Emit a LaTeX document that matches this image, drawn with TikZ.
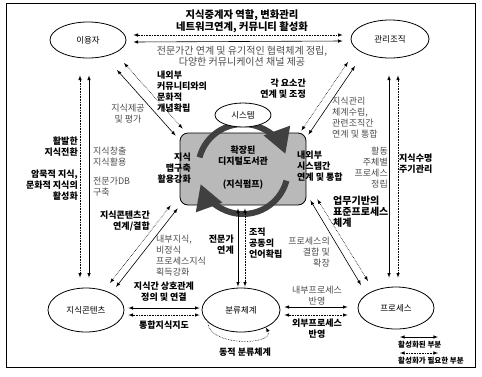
\documentclass[tikz,border=0pt]{standalone}
\usepackage{fontspec}
\setmainfont{Noto Sans CJK KR}
\usepackage{tikz}
\usetikzlibrary{arrows, shapes.geometric}

\begin{document}
\begin{tikzpicture}[x=1pt, y=-1pt,
	every node/.style={
		inner sep=0pt,
		font=\fontsize{9}{11}\selectfont,
		},
	every ellipse node/.style={
		draw,
		thick,
		font=\fontsize{8.5}{10}\selectfont,
		},
	bold/.style={font=\fontsize{9}{11}\selectfont\bfseries},
	thin/.style={text=black!70},
	>=latex,
	act/.style={<->, semithick},
	need/.style={<->, semithick, densely dotted}]

	\useasboundingbox (0,0) rectangle (482,376);
	\draw[semithick] (6,3) rectangle (475,367);

	\node[ellipse, minimum width=76pt, minimum height=36pt] (u) at (88,40) {이용자};
	\node[ellipse, minimum width=78pt, minimum height=38pt] (m) at (390,39) {관리조직};
	\node[ellipse, minimum width=76pt, minimum height=44pt] (kc) at (86,310) {지식콘텐츠};
	\node[ellipse, minimum width=78pt, minimum height=44pt] (cl) at (241,310) {분류체계};
	\node[ellipse, minimum width=76pt, minimum height=42pt] (pr) at (396,308) {프로세스};

	\node[draw, thick, rounded corners=8pt, fill=gray!55, minimum width=126pt, minimum height=72pt] (box) at (243,169) {};

	% pump
	\draw[line width=6pt, black!75, -triangle 60] (box.center) ++(-165:45) arc[start angle=-165, end angle=-20, radius=45];
	\draw[line width=6pt, black!75, -triangle 60] (box.center) ++(15:45) arc[start angle=15, end angle=160, radius=45];

	\node[ellipse, fill=white, minimum width=56pt, minimum height=24pt] (sys) at (243,115) {시스템};

	\node[bold, align=center] (lib) at (243,156) {확장된\\디지털도서관};
	\node[bold] (pump) at (243,185) {(지식펌프)};

	% connections
	\draw[act] ([shift={(7,2)}]u.east) -- ([shift={(-8,2)}]m.west);
	\draw[need] ([shift={(7,-5)}]u.east) -- ([shift={(-8,-4)}]m.west);

	\draw[act] ([shift={(1,17)}]u.south) -- ([shift={(3,-10)}]kc.north);
	\draw[need] ([shift={(-8,17)}]u.south) -- ([shift={(-6,-10)}]kc.north);

	\draw[act] ([shift={(-1,17)}]m.south) -- ([shift={(-7,-9)}]pr.north);
	\draw[need] ([shift={(8,17)}]m.south) -- ([shift={(2,-9)}]pr.north);

	\draw[act] ([shift={(29,30)}]u.center) -- ([shift={(-4,3)}]box.north west);
	\draw[need] ([shift={(36,23)}]u.center) -- ([shift={(3,-4)}]box.north west);

	\draw[act] ([shift={(-35,27)}]m.center) -- ([shift={(2,2)}]box.north east);
	\draw[need] ([shift={(-42,23)}]m.center) -- ([shift={(-5,-2)}]box.north east);

	\draw[act] ([shift={(30,-23)}]kc.center) -- ([shift={(-2,3)}]box.south west);
	\draw[need] ([shift={(24,-27)}]kc.center) -- ([shift={(-9,0)}]box.south west);

	\draw[act] ([shift={(-5,3)}]box.south) -- ([shift={(-3,-1)}]cl.north);
	\draw[need] ([shift={(2,3)}]box.south) -- ([shift={(4,-1)}]cl.north);

	\draw[act] ([shift={(4,-5)}]box.south east) -- ([shift={(-35,-23)}]pr.center);
	\draw[need] ([shift={(11,-6)}]box.south east) -- ([shift={(-28,-27)}]pr.center);

	\draw[act] ([shift={(4,-2)}]kc.east) -- ([shift={(-2,-2)}]cl.west);
	\draw[need] ([shift={(4,5)}]kc.east) -- ([shift={(-2,5)}]cl.west);

	\draw[act] ([shift={(4,-3)}]cl.east) -- ([shift={(-10,-1)}]pr.west);
	\draw[need] ([shift={(4,5)}]cl.east) -- ([shift={(-10,7)}]pr.west);

	\draw[semithick, densely dotted, ->] (cl.200) .. controls +(0,25) and +(10,18) .. (cl.-35);

	% labels
	\node[bold, align=center, font=\fontsize{10.3}{12}\selectfont\bfseries] (mediate) at (242,21) {지식중계자 역할, 변화관리\\네트워크연계, 커뮤니티 활성화};
	\node[thin, align=center, font=\fontsize{10}{11.5}\selectfont] (expert) at (242,56) {전문가간 연계 및 유기적인 협력체계 정립,\\다양한 커뮤니케이션 채널 제공};
	\node[bold, align=left, anchor=west] (culture) at (157,92) {내외부\\커뮤니티와의\\문화적\\개념확립};
	\node[thin, align=center] (offer) at (128,114) {지식제공\\및 평가};
	\node[bold, align=right, anchor=east] (coord) at (306,89) {각 요소간\\연계 및 조정};
	\node[thin, align=left, anchor=west] (plan) at (332,118) {지식관리\\체계수립,\\관련조직간\\연계 및 통합};
	\node[thin, align=right, anchor=east] (actor) at (388,168) {활동\\주체별\\프로세스\\정립};
	\node[bold, align=left, anchor=west] (life) at (399,164) {지식수명\\주기관리};
	\node[bold, align=right, anchor=east] (convert) at (78,147) {활발한\\지식전환};
	\node[bold, align=right, anchor=east] (tacit) at (78,185) {암묵적 지식,\\문화적 지식의\\활성화};
	\node[thin, align=left, anchor=west] (create) at (93,157) {지식창출\\지식활용};
	\node[thin, align=left, anchor=west] (expdb) at (93,187) {전문가DB\\구축};
	\node[bold, align=right, anchor=east] (mapuse) at (191,168) {지식\\맵구축\\활용강화};
	\node[bold, align=left, anchor=west] (sysint) at (297,166) {내외부\\시스템간\\연계 및 통합};
	\node[bold, align=right, anchor=east] (contlink) at (150,221) {지식콘텐츠간\\연계/결합};
	\node[thin, align=left, anchor=west] (inner) at (156,256) {내부지식,\\비정식\\프로세스지식\\획득강화};
	\node[bold, align=right, anchor=east] (expert2) at (234,245) {전문가\\연계};
	\node[bold, align=left, anchor=west] (lang) at (249,243) {조직\\공동의\\언어확립};
	\node[bold, align=left, anchor=west, font=\fontsize{10}{11}\selectfont\bfseries] (std) at (333,212) {업무기반의\\표준프로세스\\체계};
	\node[thin, align=right, anchor=east] (merge) at (330,252) {프로세스의\\결합 및\\확장};
	\node[bold, align=center] (relate) at (164,292) {지식간 상호관계\\정의 및 연결};
	\node[bold] (kmap) at (164,325) {통합지식지도};
	\node[thin, align=center] (inproc) at (317,296) {내부프로세스\\반영};
	\node[bold, align=center] (outproc) at (317,329) {외부프로세스\\반영};
	\node[bold] (dyn) at (245,352) {동적 분류체계};

	% legend
	\coordinate (la) at (400,337);
	\coordinate (lb) at (438,337);
	\coordinate (lc) at (400,353);
	\coordinate (ld) at (438,353);
	\draw[act] (la) -- (lb);
	\draw[need] (lc) -- (ld);
	\node[bold, anchor=west, font=\fontsize{7.5}{9}\selectfont\bfseries] (leg1) at (398,345) {활성화된 부분};
	\node[bold, anchor=west, font=\fontsize{7.5}{9}\selectfont\bfseries] (leg2) at (398,361) {활성화가 필요한 부분};

\end{tikzpicture}
\end{document}
